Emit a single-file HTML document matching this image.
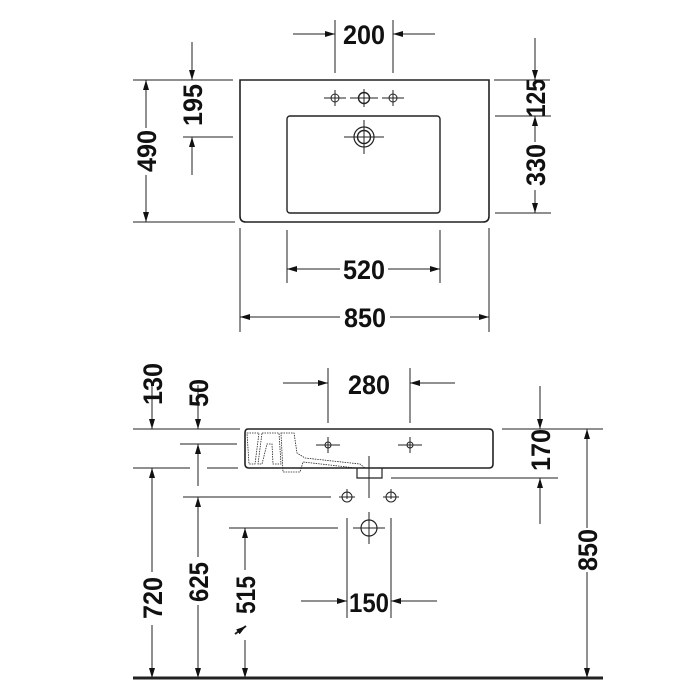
<!DOCTYPE html>
<html><head><style>html,body{margin:0;padding:0;background:#fff}svg{display:block}
text{font-family:"Liberation Sans",sans-serif;font-weight:bold;font-size:27px;fill:#111}</style></head><body>
<svg width="700" height="700" viewBox="0 0 700 700" xmlns="http://www.w3.org/2000/svg">
<defs><marker id="a" viewBox="0 0 10 6" refX="10" refY="3" markerWidth="11" markerHeight="6" orient="auto" markerUnits="userSpaceOnUse"><path d="M0,0L10,3L0,6z" fill="#111"/></marker></defs>
<g stroke="#222" stroke-width="1" fill="none">
<path d="M240,80H489V216Q489,222 483,222H246Q240,222 240,216Z" stroke-width="1.6"/>
<rect x="287" y="116" width="153" height="97" rx="3" stroke-width="1.4"/>
<circle cx="335" cy="98" r="4"/><circle cx="364" cy="98" r="5.5" stroke-width="1.4"/><circle cx="393" cy="98" r="4"/>
<path d="M324,98h22M335,90v16M350,98h28M364,89v18M382,98h22M393,90v16"/>
<circle cx="364" cy="137" r="10" stroke-width="1.2"/><circle cx="364" cy="137" r="6.5" stroke-width="1.4"/>
<path d="M344,137h40M364,120v34"/>
<path d="M335,20v53M393,20v53M133,80h100M183,137h50M133,222h102M494,80h56M495,116h56M495,213h56M287,230v53M440,230v53M240,228v104M489,228v104"/>
</g>
<g stroke="#222" stroke-width="1" fill="none" marker-end="url(#a)">
<path d="M293,34h42"/><path d="M435,34h-42"/>
<path d="M192,42v38"/><path d="M192,175v-38"/>
<path d="M146,128v-48"/><path d="M146,175v47"/>
<path d="M535,38v42"/><path d="M535,142v-26"/><path d="M535,190v23"/>
<path d="M340,269h-53"/><path d="M388,269h52"/>
<path d="M340,317h-100"/><path d="M390,317h99"/>
</g>
<g stroke="#222" stroke-width="1" fill="none">
<path d="M248,429H489Q493,429 493,433V464Q493,468 489,468H249Q245,468 245,464V433Q245,429 248,429Z" stroke-width="1.6"/>
<path d="M357,468v10h25v-10" stroke-width="1.2"/>
<path d="M247,433h12l-4,31h-6ZM262,433h17l2,31h-8l-1,-20h-5l-5,20h-4ZM281,433h13l3,20l8,5l55,6l5,4h-9l-53,-6l-3,10h-17Z" stroke-dasharray="1.5,1" stroke-width="0.8"/>
<circle cx="328" cy="445" r="3"/><circle cx="410" cy="445" r="3"/>
<path d="M316,445h24M328,437v16M398,445h24M410,437v16M369,456v42"/>
<circle cx="347" cy="497" r="5"/><circle cx="391" cy="497" r="5"/>
<path d="M339,497h16M347,489v10M383,497h16M391,489v10"/>
<circle cx="369" cy="528" r="8" stroke-width="1.2"/><path d="M353,528h32M369,512v32"/>
<path d="M328,368v55M410,368v55M133,429h107M180,444h57M133,468h57M207,468h31M183,497h148M229,528h109M347,518v100M391,518v100M502,429h101M391,478h167"/>
<path d="M133,678H603" stroke-width="3"/>
</g>
<g stroke="#222" stroke-width="1" fill="none" marker-end="url(#a)">
<path d="M283,383h45"/><path d="M455,383h-45"/>
<path d="M152,385v44"/><path d="M198,385v44"/><path d="M198,486v-42"/>
<path d="M540,386v43"/><path d="M540,524v-46"/>
<path d="M152,572v-104"/><path d="M152,625v53"/>
<path d="M198,557v-60"/><path d="M198,605v73"/>
<path d="M245,570v-42"/><path d="M245,640v38"/>
<path d="M587,528v-99"/><path d="M587,572v106"/>
<path d="M301,601h46"/><path d="M437,601h-46"/>
<path d="M235,634l11,-8" stroke-width="2"/>
</g>
<g>
<text x="364" y="44" text-anchor="middle" textLength="42" lengthAdjust="spacingAndGlyphs">200</text>
<text x="364" y="279" text-anchor="middle" textLength="42" lengthAdjust="spacingAndGlyphs">520</text>
<text x="365" y="327" text-anchor="middle" textLength="42" lengthAdjust="spacingAndGlyphs">850</text>
<text x="369" y="394" text-anchor="middle" textLength="42" lengthAdjust="spacingAndGlyphs">280</text>
<text x="369" y="612" text-anchor="middle" textLength="40" lengthAdjust="spacingAndGlyphs">150</text>
</g>
<g text-anchor="middle">
<text transform="translate(202,105) rotate(-90)" textLength="42" lengthAdjust="spacingAndGlyphs">195</text>
<text transform="translate(156,151) rotate(-90)" textLength="42" lengthAdjust="spacingAndGlyphs">490</text>
<text transform="translate(545,98) rotate(-90)" textLength="38" lengthAdjust="spacingAndGlyphs">125</text>
<text transform="translate(545,165) rotate(-90)" textLength="42" lengthAdjust="spacingAndGlyphs">330</text>
<text transform="translate(162,384) rotate(-90)" textLength="42" lengthAdjust="spacingAndGlyphs">130</text>
<text transform="translate(208,393) rotate(-90)" textLength="28" lengthAdjust="spacingAndGlyphs">50</text>
<text transform="translate(550,450) rotate(-90)" textLength="42" lengthAdjust="spacingAndGlyphs">170</text>
<text transform="translate(162,598) rotate(-90)" textLength="42" lengthAdjust="spacingAndGlyphs">720</text>
<text transform="translate(208,582) rotate(-90)" textLength="40" lengthAdjust="spacingAndGlyphs">625</text>
<text transform="translate(255,595) rotate(-90)" textLength="38" lengthAdjust="spacingAndGlyphs">515</text>
<text transform="translate(597,550) rotate(-90)" textLength="42" lengthAdjust="spacingAndGlyphs">850</text>
</g>
</svg>
</body></html>
